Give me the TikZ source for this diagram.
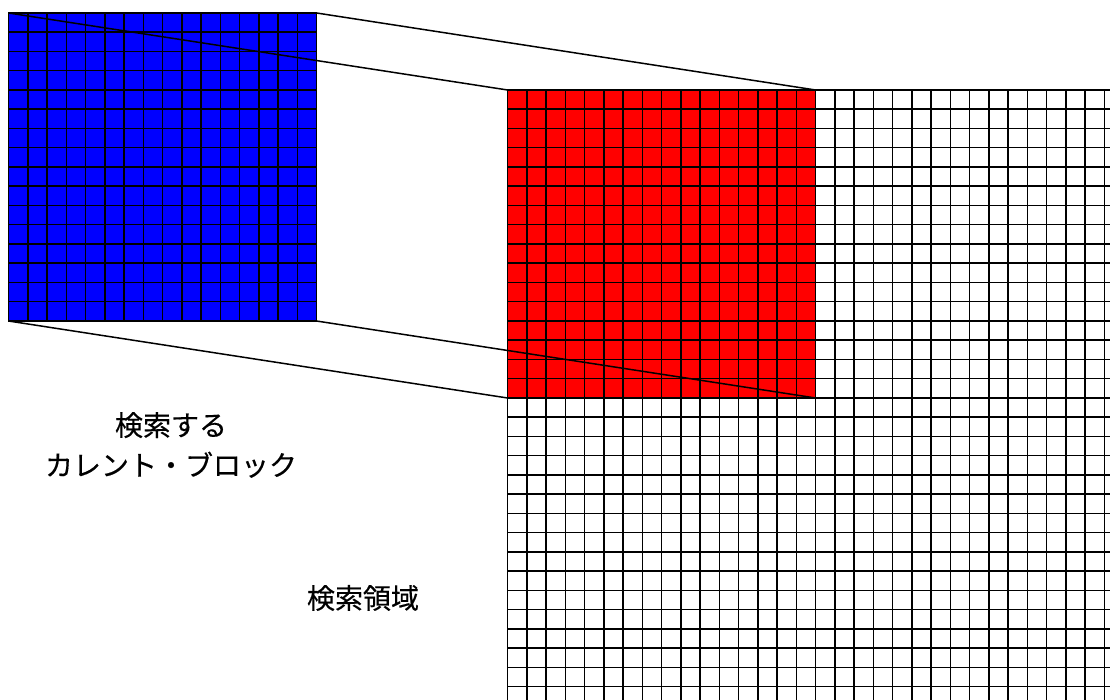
\documentclass[tikz,border=0pt]{standalone}
\usepackage{fontspec}
\newfontfamily\cjk[FakeBold=0.4]{Noto Sans CJK JP}
\begin{document}
\begin{tikzpicture}[x=1pt,y=1pt,
  block/.style={draw=black, line width=1.5pt, inner sep=0pt, outer sep=0pt, anchor=north west},
  gridline/.style={black, line width=1.5pt},
  link/.style={black, line width=1.5pt},
  label/.style={font=\cjk\fontsize{28}{40}\selectfont, align=center, inner sep=0pt}]
\useasboundingbox (0,0) rectangle (1110,700);
\clip (0,0) rectangle (1110,700);
% search area
\node[block, fill=white, minimum width=616pt, minimum height=616pt] (area) at (507.5,610) {};
\node[block, fill=red, minimum width=308pt, minimum height=308pt] (ref) at (507.5,610) {};
\node[block, fill=blue, minimum width=308pt, minimum height=308pt] (cur) at (8.5,687) {};
% grids
\foreach \i in {0,...,32} {
  \pgfmathsetmacro{\gx}{507.5+\i*19.25}
  \pgfmathsetmacro{\gy}{610-\i*19.25}
  \draw[gridline] (\gx, 610) -- (\gx, -6);
  \draw[gridline] (507.5, \gy) -- (1123.5, \gy);
}
\foreach \i in {0,...,16} {
  \pgfmathsetmacro{\gx}{8.5+\i*19.25}
  \pgfmathsetmacro{\gy}{687-\i*19.25}
  \draw[gridline] (\gx, 687) -- (\gx, 379);
  \draw[gridline] (8.5, \gy) -- (316.5, \gy);
}
% connectors
\draw[link] (cur.north west) -- (ref.north west);
\draw[link] (cur.north east) -- (ref.north east);
\draw[link] (cur.south west) -- (ref.south west);
\draw[link] (cur.south east) -- (ref.south east);
% labels
\node[label] (curlabel) at (171,255) {検索する\\カレント・ブロック};
\node[label] (arealabel) at (363,102) {検索領域};
\end{tikzpicture}
\end{document}
